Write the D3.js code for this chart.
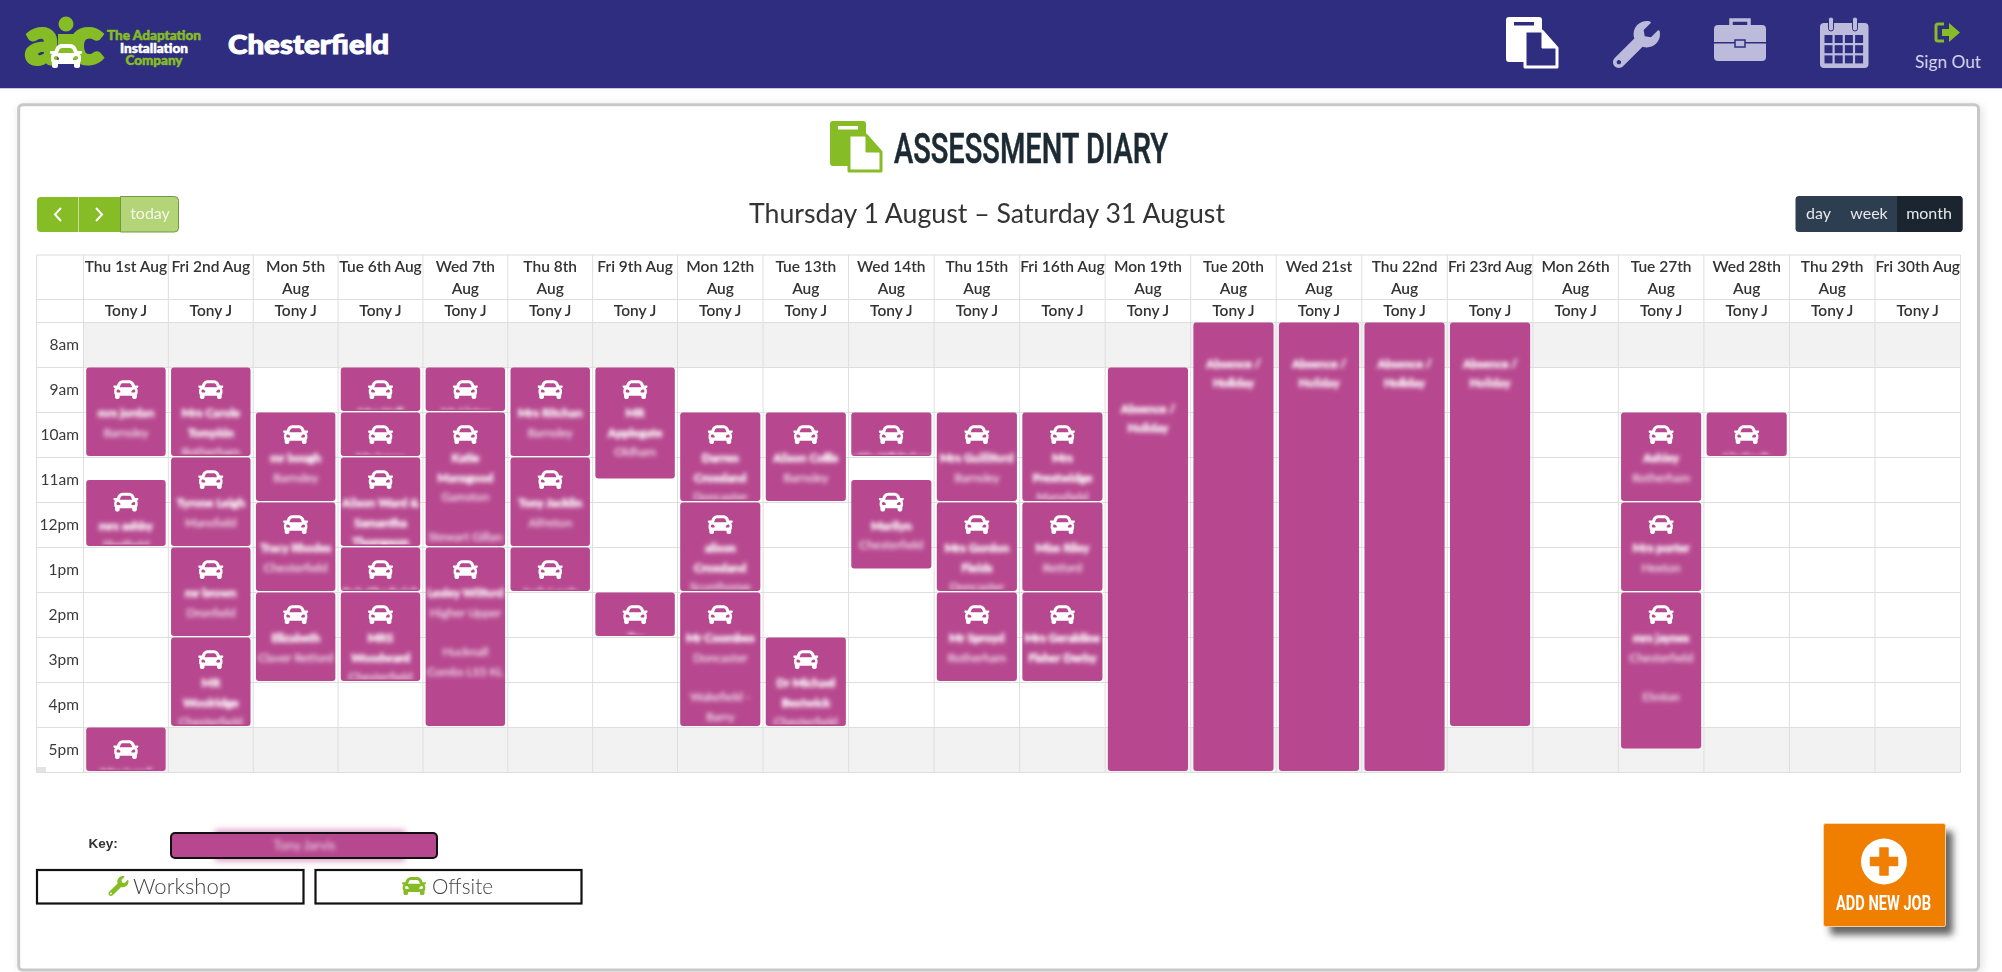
<!DOCTYPE html>
<html>
<head>
<meta charset="utf-8">
<title>Assessment Diary</title>
<script src="https://cdn.jsdelivr.net/npm/d3@7"></script>
<style>
  html, body { margin: 0; padding: 0; background: #fff; overflow: hidden; }
  svg { display: block; filter: blur(0.35px); }
  text { font-family: Lato, "Open Sans", sans-serif; }
</style>
</head>
<body>
<svg id="page" width="2002" height="972"></svg>
<script>
// column headers, "|" marks where the header cell wraps
const dayLabels = ["Thu 1st Aug", "Fri 2nd Aug", "Mon 5th|Aug", "Tue 6th Aug", "Wed 7th|Aug", "Thu 8th|Aug", "Fri 9th Aug",
  "Mon 12th|Aug", "Tue 13th|Aug", "Wed 14th|Aug", "Thu 15th|Aug", "Fri 16th Aug", "Mon 19th|Aug", "Tue 20th|Aug",
  "Wed 21st|Aug", "Thu 22nd|Aug", "Fri 23rd Aug", "Mon 26th|Aug", "Tue 27th|Aug", "Wed 28th|Aug", "Thu 29th|Aug", "Fri 30th Aug"];
const staffName = "Tony J";
const hourLabels = ["8am", "9am", "10am", "11am", "12pm", "1pm", "2pm", "3pm", "4pm", "5pm"];
const shadedHours = ["8am", "5pm"];
const toolbarViews = ["day", "week", "month"];

// jobs, one entry per booking: column index, start and end hour
const jobDays = [0, 0, 0, 1, 1, 1, 1, 2, 2, 2, 3, 3, 3, 3, 3, 4, 4, 4, 5, 5, 5, 6, 6, 7, 7, 7, 8, 8, 9, 9, 10, 10, 10, 11, 11, 11, 18, 18, 18, 19];
const jobStarts = [9, 11.5, 17, 9, 11, 13, 15, 10, 12, 14, 9, 10, 11, 13, 14, 9, 10, 13, 9, 11, 13, 9, 14, 10, 12, 14, 10, 15, 10, 11.5, 10, 12, 14, 10, 12, 14, 10, 12, 14, 10];
const jobEnds = [11, 13, 18, 11, 13, 15, 17, 12, 14, 16, 10, 11, 13, 14, 16, 10, 13, 17, 11, 13, 14, 11.5, 15, 12, 14, 17, 12, 17, 11, 13.5, 12, 14, 16, 12, 14, 16, 12, 14, 17.5, 11];
const jobBold = [1, 1, 1, 2, 1, 1, 2, 1, 1, 1, 1, 1, 3, 1, 2, 1, 2, 1, 1, 1, 1, 2, 1, 2, 2, 1, 1, 2, 1, 1, 1, 2, 1, 2, 1, 2, 1, 1, 1, 1];
const jobText = [
  ["mrs jordan", "Barnsley"], ["mrs ashby", "Sheffield"], ["Mrs Lund", "Leeds"],
  ["Mrs Carole", "Tompkin", "Rotherham"], ["Tyrone Leigh", "Mansfield"], ["mr brown", "Dronfield"], ["MR", "Woolridge", "Chesterfield"],
  ["mr bough", "Barnsley"], ["Tracy Rhodes", "Chesterfield"], ["Elizabeth", "Claver Retford"],
  ["Mrs Hall", "Leeds"], ["Mr Jones", "Leeds"], ["Alison Ward &", "Samantha", "Thompson"], ["Rob Chadwick", "Leeds"], ["MRS", "Woodward", "Chesterfield"],
  ["Mr Lister", "Leeds"], ["Katie", "Mansgood", "Gamston", "", "Stewart Gillan"], ["Lesley Wilford", "Higher Upper", "", "Hucknall", "Combs LS5 KL"],
  ["Mrs Ritchan", "Barnsley"], ["Tony Jacklin", "Alfreton"], ["Jack Lewis", "Leeds"],
  ["MR", "Applegate", "Oldham"], ["Jim", "Leeds"],
  ["Darren", "Crossland", "Doncaster"], ["alison", "Crossland", "Scunthorpe"], ["Mr Coombes", "Doncaster", "", "Wakefield -", "Barry"],
  ["Alison Collis", "Barnsley"], ["Dr Michael", "Bestwick", "Chesterfield"],
  ["Lottie Whitehead", "Leeds"], ["Marilyn", "Chesterfield"],
  ["Mrs Guilliford", "Barnsley"], ["Mrs Gordon", "Fields", "Doncaster"], ["Mr Sproyd", "Rotherham"],
  ["Mrs", "Prestwidge", "Mansfield"], ["Miss Riley", "Retford"], ["Mrs Geraldine", "Fisher Derby"],
  ["Ashley", "Rotherham"], ["Mrs porter", "Hexton"], ["mrs jaynes", "Chesterfield", "", "Elmton"],
  ["Liz Cook", "Leeds"]
];

// absence blocks
const absenceDays = [12, 13, 14, 15, 16];
const absenceStarts = [9, 8, 8, 8, 8];
const absenceEnds = [18, 18, 18, 18, 17];
const absenceText = ["Absence /", "Holiday"];

const keyNames = ["Tony Jarvis"];

const navy = "#2e2d7f", lilac = "#bdbbdc", green = "#86bc25", plum = "#b7488f", orange = "#f07f05", grid = "#dedede";

const carPath = "M499.99 176h-59.87l-16.64-41.6C406.38 91.63 365.57 64 319.5 64h-127c-46.06 0-86.88 27.63-103.99 70.4L71.87 176H12.01C4.2 176-1.53 183.34.37 190.91l6 24C7.7 220.25 12.5 224 18.01 224h20.07C24.65 235.73 16 252.78 16 272v48c0 16.12 6.16 30.67 16 41.93V416c0 17.67 14.33 32 32 32h32c17.67 0 32-14.33 32-32v-32h256v32c0 17.67 14.33 32 32 32h32c17.67 0 32-14.33 32-32v-54.07c9.84-11.25 16-25.8 16-41.93v-48c0-19.22-8.65-36.27-22.07-48H494c5.51 0 10.31-3.75 11.64-9.09l6-24c1.89-7.57-3.84-14.91-11.65-14.91zm-352.06-17.83c7.29-18.22 24.94-30.17 44.57-30.17h127c19.63 0 37.28 11.95 44.57 30.17L384 208H128l19.93-49.83zM96 319.8c-19.2 0-32-12.76-32-31.9S76.8 256 96 256s48 28.71 48 47.85-28.8 15.95-48 15.95zm320 0c-19.2 0-48 3.19-48-15.95S396.8 256 416 256s32 12.76 32 31.9-12.8 31.9-32 31.9z";
const wrenchPath = "M507.73 109.1c-2.24-9.03-13.54-12.09-20.12-5.51l-74.36 74.36-67.88-11.31-11.31-67.88 74.36-74.36c6.62-6.62 3.43-17.9-5.66-20.16-47.38-11.74-99.55.91-136.58 37.93-39.64 39.64-50.55 97.1-34.05 147.2L18.74 402.76c-24.99 24.99-24.99 65.51 0 90.5 24.99 24.99 65.51 24.99 90.5 0l213.21-213.21c50.12 16.71 107.47 5.68 147.37-34.22 37.07-37.07 49.7-89.32 37.91-136.73zM64 472c-13.25 0-24-10.75-24-24 0-13.26 10.75-24 24-24s24 10.74 24 24c0 13.25-10.75 24-24 24z";

const svg = d3.select("#page");
const defs = svg.append("defs");

defs.append("filter").attr("id", "smudge").attr("x", "-30%").attr("y", "-80%").attr("width", "160%").attr("height", "260%")
  .append("feGaussianBlur").attr("stdDeviation", 2.3);
defs.append("filter").attr("id", "leak").attr("x", "-20%").attr("y", "-100%").attr("width", "140%").attr("height", "300%")
  .append("feGaussianBlur").attr("stdDeviation", 3);
const cardShadow = defs.append("filter").attr("id", "cardShadow").attr("x", "-2%").attr("y", "-2%").attr("width", "104%").attr("height", "104%");
cardShadow.append("feDropShadow").attr("dx", 2).attr("dy", 2).attr("stdDeviation", 5).attr("flood-color", "#000").attr("flood-opacity", 0.12);
const btnShadow = defs.append("filter").attr("id", "btnShadow").attr("x", "-20%").attr("y", "-20%").attr("width", "150%").attr("height", "150%");
btnShadow.append("feDropShadow").attr("dx", 7).attr("dy", 8).attr("stdDeviation", 3.5).attr("flood-color", "#333").attr("flood-opacity", 0.75);

// scales: columns are a touch narrower over the first week
const x = d3.scaleLinear().domain([0, 7, dayLabels.length]).range([83.5, 677.5, 1960.5]);
const y = d3.scaleLinear().domain([8, 18]).range([322.5, 772.5]);
const yBand = d3.scaleBand().domain(hourLabels).range(y.range());
const headTop = 255, headMid = 299.5, tableLeft = 36.6;

function icon(parent, path, left, top, size, fill) {
  return parent.append("path").attr("d", path).attr("fill", fill)
    .attr("transform", `translate(${left},${top}) scale(${size / 512})`);
}

function docIcon(left, top, back, front, edge) {
  const g = svg.append("g").attr("transform", `translate(${left},${top})`);
  g.append("rect").attr("width", 36).attr("height", 45).attr("rx", 3).attr("fill", back);
  g.append("rect").attr("x", 8).attr("y", 5).attr("width", 20).attr("height", 3.5).attr("fill", front);
  g.append("path").attr("d", "M19,14 H36 L51,31 V50 H19 Z").attr("fill", front).attr("stroke", edge).attr("stroke-width", 3).attr("stroke-linejoin", "round");
  g.append("path").attr("d", "M36,14 V31 H51 Z").attr("fill", edge).attr("stroke", edge).attr("stroke-width", 1);
}

/* ---------- top bar ---------- */
svg.append("rect").attr("width", 2002).attr("height", 88).attr("fill", navy);
svg.append("rect").attr("y", 88).attr("width", 2002).attr("height", 1).attr("fill", "#c9c9e4");

const logo = svg.append("g");
logo.append("text").attr("x", 26).attr("y", 63).attr("font-size", 62).attr("font-weight", 900).attr("fill", green)
  .attr("stroke", green).attr("stroke-width", 5).attr("textLength", 32).attr("lengthAdjust", "spacingAndGlyphs").text("a");
logo.append("text").attr("x", 70).attr("y", 63).attr("font-size", 62).attr("font-weight", 900).attr("fill", green)
  .attr("stroke", green).attr("stroke-width", 5).attr("textLength", 32).attr("lengthAdjust", "spacingAndGlyphs").text("c");
logo.append("circle").attr("cx", 66).attr("cy", 24).attr("r", 7.5).attr("fill", green);
logo.append("rect").attr("x", 58).attr("y", 34).attr("width", 15).attr("height", 22).attr("fill", green);
icon(logo, carPath, 50, 40, 32, "#fff");
[["The Adaptation", 40, 94, green], ["Installation", 53, 68, "#fff"], ["Company", 65, 57, green]].forEach(function(d) {
  logo.append("text").attr("x", 154).attr("y", d[1]).attr("text-anchor", "middle").attr("font-size", 12.5).attr("font-weight", 900)
    .attr("fill", d[3]).attr("stroke", d[3]).attr("stroke-width", 0.5).attr("textLength", d[2]).attr("lengthAdjust", "spacingAndGlyphs").text(d[0]);
});
svg.append("text").attr("x", 228).attr("y", 54).attr("font-size", 27).attr("font-weight", 900).attr("fill", "#fff")
  .attr("stroke", "#fff").attr("stroke-width", 1).attr("textLength", 161).attr("lengthAdjust", "spacingAndGlyphs").text("Chesterfield");

docIcon(1506, 17, "#fff", navy, "#fff");
icon(svg, wrenchPath, 1613, 21, 47, lilac);

const case_ = svg.append("g").attr("transform", "translate(1714,17)");
case_.append("path").attr("d", "M17,9 V3 H35 V9").attr("fill", "none").attr("stroke", lilac).attr("stroke-width", 3.5);
case_.append("rect").attr("y", 8).attr("width", 52).attr("height", 36).attr("rx", 4).attr("fill", lilac);
case_.append("rect").attr("y", 25).attr("width", 52).attr("height", 1.5).attr("fill", navy);
case_.append("rect").attr("x", 21).attr("y", 23).attr("width", 10).attr("height", 7).attr("fill", lilac).attr("stroke", navy).attr("stroke-width", 1.5);

const cal = svg.append("g").attr("transform", "translate(1820,17)");
cal.append("rect").attr("y", 6).attr("width", 48.5).attr("height", 45).attr("rx", 4).attr("fill", lilac);
[11, 35].forEach(function(cx) {
  cal.append("rect").attr("x", cx - 2.5).attr("y", 0).attr("width", 5).attr("height", 14).attr("rx", 2.5).attr("fill", lilac).attr("stroke", navy).attr("stroke-width", 1);
});
d3.range(3).forEach(function(r) {
  d3.range(4).forEach(function(c) {
    cal.append("rect").attr("x", 4.5 + c * 10.2).attr("y", 18 + r * 10.2).attr("width", 8).attr("height", 8).attr("fill", navy);
  });
});

const out = svg.append("g").attr("transform", "translate(1934,22)");
out.append("path").attr("d", "M10,2 H4 Q2,2 2,4 V17 Q2,19 4,19 H10").attr("fill", "none").attr("stroke", green).attr("stroke-width", 3);
out.append("path").attr("d", "M8,7 H15 V1 L26,10.5 L15,20 V14 H8 Z").attr("fill", green);
svg.append("text").attr("x", 1948).attr("y", 68).attr("text-anchor", "middle").attr("font-size", 16.5).attr("fill", "#d3d3ea")
  .attr("textLength", 66).attr("lengthAdjust", "spacingAndGlyphs").text("Sign Out");

/* ---------- card, heading, toolbar ---------- */
svg.append("rect").attr("x", 18.7).attr("y", 104.7).attr("width", 1959.8).attr("height", 865.3).attr("rx", 4)
  .attr("fill", "#fff").attr("stroke", "#c8c8c8").attr("stroke-width", 3).attr("filter", "url(#cardShadow)");

docIcon(830, 121, green, "#fff", green);
svg.append("text").attr("x", 894).attr("y", 163).attr("font-size", 43).attr("font-weight", 500).attr("fill", "#1c2a33")
  .attr("stroke", "#1c2a33").attr("stroke-width", 0.6).style("font-family", "Roboto").attr("textLength", 274).attr("lengthAdjust", "spacingAndGlyphs").text("ASSESSMENT DIARY");
svg.append("text").attr("x", 749).attr("y", 223).attr("font-size", 26).attr("fill", "#333")
  .attr("textLength", 476).attr("lengthAdjust", "spacingAndGlyphs").text("Thursday 1 August – Saturday 31 August");

const prev = svg.append("g");
prev.append("path").attr("d", "M41,197 H120 V232 H41 Q37,232 37,228 V201 Q37,197 41,197 Z").attr("fill", green);
prev.append("rect").attr("x", 78).attr("y", 197).attr("width", 0.8).attr("height", 35).attr("fill", "#d6e8b5");
[[58, -1], [99, 1]].forEach(function(d) {
  prev.append("path").attr("d", `M${d[0] - d[1] * 3},208 L${d[0] + d[1] * 3},214.5 L${d[0] - d[1] * 3},221`).attr("fill", "none").attr("stroke", "#fff").attr("stroke-width", 2);
});
svg.append("path").attr("d", "M120.5,196.5 H174.5 Q178.5,196.5 178.5,200.5 V228 Q178.5,232 174.5,232 H120.5 Z").attr("fill", "#b3d477").attr("stroke", "#6e9a46").attr("stroke-width", 1);
svg.append("text").attr("x", 150).attr("y", 219).attr("text-anchor", "middle").attr("font-size", 16).attr("fill", "#f4f8ec").text("today");

svg.append("rect").attr("x", 1795.5).attr("y", 196).attr("width", 167).attr("height", 36).attr("rx", 3.5).attr("fill", "#2c3e50");
svg.append("path").attr("d", "M1897,196 H1959 Q1962.5,196 1962.5,199.5 V228.5 Q1962.5,232 1959,232 H1897 Z").attr("fill", "#1a252f");
svg.selectAll(".view").data(toolbarViews).join("text").attr("class", "view")
  .attr("x", function(d, i) { return [1818.5, 1869, 1929][i]; }).attr("y", 219).attr("text-anchor", "middle")
  .attr("font-size", 16).attr("fill", "#e6e8ea").text(function(d) { return d; });

/* ---------- calendar grid ---------- */
const table = svg.append("g");
table.selectAll(".shade").data(shadedHours).join("rect").attr("class", "shade")
  .attr("x", x(0)).attr("y", function(d) { return yBand(d); })
  .attr("width", x(dayLabels.length) - x(0)).attr("height", yBand.bandwidth()).attr("fill", "#f2f2f2");

// horizontal rules come from the hour scale, verticals from the column scale
table.selectAll(".hline").data(d3.range(8, 19)).join("line").attr("class", "hline")
  .attr("x1", tableLeft).attr("x2", x(dayLabels.length)).attr("y1", function(d) { return y(d); }).attr("y2", function(d) { return y(d); })
  .attr("stroke", grid).attr("stroke-width", 1.2);
[headTop, headMid].forEach(function(h) {
  table.append("line").attr("x1", tableLeft).attr("x2", x(dayLabels.length)).attr("y1", h).attr("y2", h).attr("stroke", grid).attr("stroke-width", 1.2);
});
table.selectAll(".vline").data(d3.range(0, dayLabels.length + 1)).join("line").attr("class", "vline")
  .attr("x1", function(d) { return x(d); }).attr("x2", function(d) { return x(d); }).attr("y1", headTop).attr("y2", y(18))
  .attr("stroke", grid).attr("stroke-width", 1);
table.append("line").attr("x1", tableLeft).attr("x2", tableLeft).attr("y1", headTop).attr("y2", y(18)).attr("stroke", grid).attr("stroke-width", 1);
table.append("rect").attr("x", 37).attr("y", 767).attr("width", 9).attr("height", 5).attr("fill", "#e4e4e4");

// day headers
const heads = table.selectAll(".head").data(dayLabels).join("text").attr("class", "head")
  .attr("text-anchor", "middle").attr("font-size", 15.5).attr("font-weight", 600).attr("fill", "#333");
heads.each(function(d, i) {
  d3.select(this).selectAll("tspan").data(d.split("|")).join("tspan")
    .attr("x", (x(i) + x(i + 1)) / 2).attr("y", function(p, j) { return 272 + j * 22; }).text(function(p) { return p; });
});
table.selectAll(".staff").data(dayLabels).join("text").attr("class", "staff")
  .attr("x", function(d, i) { return (x(i) + x(i + 1)) / 2; }).attr("y", 316)
  .attr("text-anchor", "middle").attr("font-size", 15.5).attr("font-weight", 600).attr("fill", "#333").text(staffName);

// hour labels
const axis = svg.append("g").attr("transform", "translate(79,0)")
  .call(d3.axisLeft(yBand).tickSize(0).tickPadding(0));
axis.select(".domain").remove();
axis.selectAll("text").attr("font-size", 15.5).attr("fill", "#3a3a3a").style("font-family", "Lato");

/* ---------- events ---------- */
function drawEvent(n, col, start, end, lines, bold, withCar) {
  const left = x(col) + 2.7, w = x(col + 1) - x(col) - 5.4, top = y(start), h = y(end) - y(start) - 1.5;
  const g = svg.append("g").attr("class", "event");
  defs.append("clipPath").attr("id", "clip" + n).append("rect").attr("x", left - 1).attr("y", top).attr("width", w + 2).attr("height", h - 1.5);
  g.append("rect").attr("x", left).attr("y", top).attr("width", w).attr("height", h).attr("rx", 3).attr("fill", plum);
  if (withCar) {
    icon(g, carPath, left + w / 2 - 12.5, top + 9.5, 25, "#fff");
  }
  const firstLine = withCar ? 49.5 : 45;
  g.append("g").attr("clip-path", `url(#clip${n})`).append("g").attr("filter", "url(#smudge)")
    .selectAll("text").data(lines).join("text")
    .attr("x", left + w / 2).attr("y", function(d, i) { return top + firstLine + i * 19.7; })
    .attr("text-anchor", "middle").attr("font-size", 12).attr("font-weight", function(d, i) { return i < bold ? 700 : 400; })
    .attr("fill", "#fff").attr("stroke", "#fff").attr("stroke-width", function(d, i) { return i < bold ? 0.5 : 0.2; })
    .attr("fill-opacity", function(d, i) { return i < bold ? 1 : 0.8; })
    .text(function(d) { return d; });
}

jobDays.forEach(function(col, i) {
  drawEvent("j" + i, col, jobStarts[i], jobEnds[i], jobText[i], jobBold[i], true);
});
absenceDays.forEach(function(col, i) {
  drawEvent("a" + i, col, absenceStarts[i], absenceEnds[i], absenceText, 2, false);
});

/* ---------- key and add button ---------- */
svg.append("text").attr("x", 88.5).attr("y", 848).style("font-family", "Liberation Sans").attr("font-size", 13.5).attr("font-weight", 700).attr("fill", "#333").text("Key:");
svg.append("rect").attr("x", 215).attr("y", 830).attr("width", 190).attr("height", 31).attr("fill", plum).attr("fill-opacity", 0.55).attr("filter", "url(#leak)");
svg.append("rect").attr("x", 171).attr("y", 833).attr("width", 266).attr("height", 25).attr("rx", 4).attr("fill", plum).attr("stroke", "#111").attr("stroke-width", 2);
svg.append("text").attr("x", 304.5).attr("y", 850).attr("text-anchor", "middle").attr("font-size", 13).attr("fill", "#fff").attr("fill-opacity", 0.8)
  .attr("filter", "url(#smudge)").text(keyNames[0]);

function keyBox(left, right, label, labelX, labelW) {
  svg.append("rect").attr("x", left).attr("y", 870).attr("width", right - left).attr("height", 33.5).attr("fill", "#fff").attr("stroke", "#111").attr("stroke-width", 2.2);
  svg.append("text").attr("x", labelX).attr("y", 894).attr("font-size", 21).attr("font-weight", 300).attr("fill", "#444")
    .attr("textLength", labelW).attr("lengthAdjust", "spacingAndGlyphs").text(label);
}
keyBox(37, 303.5, "Workshop", 133, 98);
keyBox(315.5, 581.5, "Offsite", 432, 61);
icon(svg, wrenchPath, 108.5, 876, 20, green);
icon(svg, carPath, 402, 874, 24, green);

const add = svg.append("g");
add.append("rect").attr("x", 1823.5).attr("y", 823.5).attr("width", 122).attr("height", 103).attr("rx", 2).attr("fill", orange)
  .attr("stroke", "#f6dcc0").attr("stroke-width", 0.8).attr("filter", "url(#btnShadow)");
add.append("circle").attr("cx", 1884).attr("cy", 861.5).attr("r", 23).attr("fill", "#fff");
add.append("path").attr("d", "M1880,848 h8 v9.5 h9.5 v8 h-9.5 v9.5 h-8 v-9.5 h-9.5 v-8 h9.5 Z").attr("fill", orange).attr("stroke", orange).attr("stroke-linejoin", "round").attr("stroke-width", 1.5);
add.append("text").attr("x", 1836).attr("y", 909.5).style("font-family", "Roboto").attr("font-size", 20).attr("font-weight", 700).attr("fill", "#fff")
  .attr("textLength", 95).attr("lengthAdjust", "spacingAndGlyphs").text("ADD NEW JOB");
</script>
</body>
</html>
